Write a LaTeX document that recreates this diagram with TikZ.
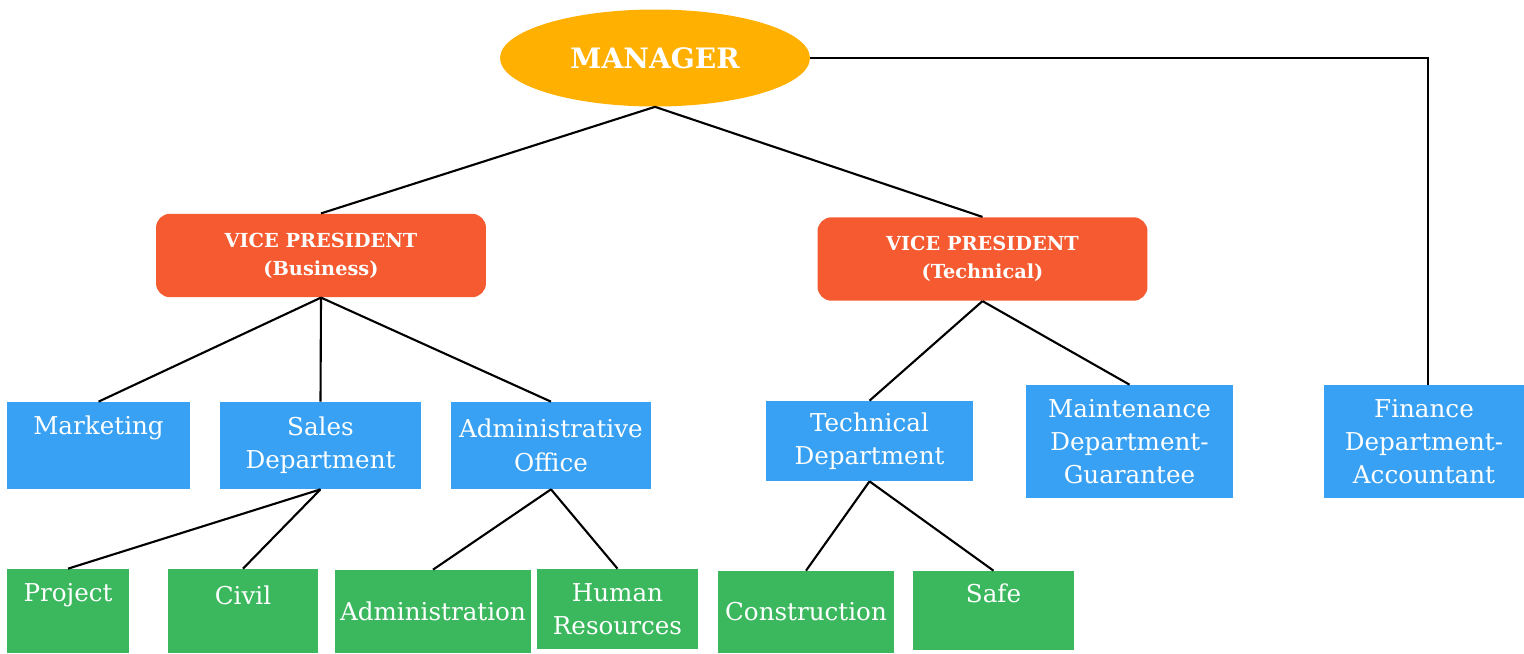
\documentclass[tikz,border=0pt]{standalone}
\usepackage{fontspec}
\setmainfont{DejaVu Serif}
\usetikzlibrary{shapes.geometric}
\definecolor{mgrclr}{HTML}{FFB000}
\definecolor{vpclr}{HTML}{F55A31}
\definecolor{deptclr}{HTML}{38A1F3}
\definecolor{unitclr}{HTML}{3BB85E}
\tikzset{
  mgr/.style={ellipse, fill=mgrclr, text=white, inner sep=0pt,
    font=\bfseries\fontsize{16}{19}\selectfont},
  vp/.style={rectangle, rounded corners=8pt, fill=vpclr, text=white, inner sep=0pt,
    align=center, minimum width=6.6cm, minimum height=1.67cm,
    font=\bfseries\fontsize{11}{16}\selectfont},
  dept/.style={rectangle, fill=deptclr, text=white, inner sep=0pt, align=center,
    font=\fontsize{14}{19}\selectfont},
  unit/.style={rectangle, fill=unitclr, text=white, inner sep=0pt, align=center,
    font=\fontsize{14}{19}\selectfont},
  link/.style={draw=black, line width=1.2pt}
}
\begin{document}
\begin{tikzpicture}[x=0.02cm, y=-0.02cm]
    \useasboundingbox (0,0) rectangle (1524,653);

    % top
    \node[mgr, minimum width=6.2cm, minimum height=1.94cm] (manager) at (655,58) {MANAGER};
    \node[vp] (vpbus) at (321,255.5) {VICE PRESIDENT\\(Business)};
    \node[vp] (vptech) at (982.5,259) {VICE PRESIDENT\\(Technical)};

    % departments
    \node[dept, minimum width=3.66cm, minimum height=1.74cm, text depth=0.81cm] (marketing) at (98.5,445.5) {Marketing};
    \node[dept, minimum width=4.02cm, minimum height=1.74cm] (sales) at (320.5,445.5) {Sales\\Department};
    \node[dept, minimum width=4.0cm, minimum height=1.74cm] (office) at (551,445.5) {Administrative\\Office};
    \node[dept, minimum width=4.14cm, minimum height=1.6cm] (technical) at (869.5,441) {Technical\\Department};
    \node[dept, minimum width=4.14cm, minimum height=2.26cm] (maintenance) at (1129.5,441.5) {Maintenance\\Department-\\Guarantee};
    \node[dept, minimum width=4.0cm, minimum height=2.26cm] (finance) at (1424,441.5) {Finance\\Department-\\Accountant};

    % units
    \node[unit, minimum width=2.44cm, minimum height=1.68cm, text depth=0.75cm] (project) at (68,611) {Project};
    \node[unit, minimum width=3.0cm, minimum height=1.68cm, text depth=0.64cm] (civil) at (243,611) {Civil};
    \node[unit, minimum width=3.92cm, minimum height=1.66cm] (administration) at (433,611.5) {Administration};
    \node[unit, minimum width=3.22cm, minimum height=1.6cm] (hr) at (617.5,609) {Human\\Resources};
    \node[unit, minimum width=3.52cm, minimum height=1.64cm] (construction) at (806,612) {Construction};
    \node[unit, minimum width=3.22cm, minimum height=1.58cm, text depth=0.7cm] (safe) at (993.5,610.5) {Safe};

    % connectors
    \draw[link] (manager.south) -- (vpbus.north);
    \draw[link] (manager.south) -- (vptech.north);
    \draw[link] (manager.east) -| ([xshift=0.08cm]finance.north);

    \draw[link] (vpbus.south) -- (marketing.north);
    \draw[link] (vpbus.south) -- (sales.north);
    \draw[link] (vpbus.south) -- (office.north);
    \draw[link] (vptech.south) -- (technical.north);
    \draw[link] (vptech.south) -- (maintenance.north);

    \draw[link] (sales.south) -- (project.north);
    \draw[link] (sales.south) -- (civil.north);
    \draw[link] (office.south) -- (administration.north);
    \draw[link] (office.south) -- (hr.north);
    \draw[link] (technical.south) -- (construction.north);
    \draw[link] (technical.south) -- (safe.north);
\end{tikzpicture}
\end{document}
